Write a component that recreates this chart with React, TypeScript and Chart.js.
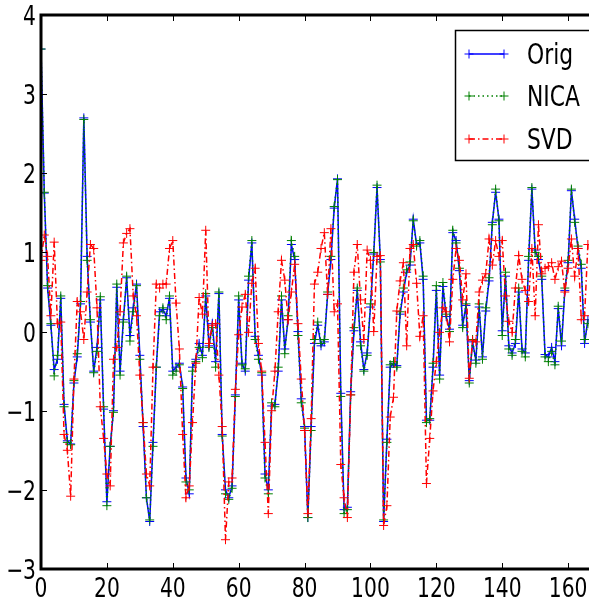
import React, { useEffect, useRef } from "react";
import { Chart, registerables } from "chart.js";

Chart.register(...registerables);

const ORIG = [
  3.57, 1.75, 0.55, 0.08, -0.48, -0.35, 0.42, -0.92, -1.38, -1.42,
  -0.65, -0.32, 0.35, 2.7, 0.95, 0.12, -0.5, -0.2, 0.4, -0.98,
  -2.15, -1.45, -1.0, 0.56, -0.5, 0.15, 0.68, -0.05, 0.3, 0.6,
  -0.3, -1.2, -2.1, -2.4, -1.4, -0.45, 0.25, 0.28, 0.2, 0.42,
  -0.5, -0.45, -0.4, -0.7, -1.85, -2.05, -0.45, -0.35, -0.15, -0.3,
  0.45, -0.18, 0.1, -0.38, 0.48, -1.3, -2.0, -2.1, -1.95, -0.8,
  0.4, -0.4, -0.5, 0.65, 1.12, -0.06, -0.3, -0.55, -1.8, -2.0,
  -0.94, -0.92, -0.5, 0.4, -0.22, 0.15, 1.1, 0.91, 0.0, -0.85,
  -1.2, -2.35, -1.2, -0.15, 0.08, -0.18, -0.13, 0.47, 0.91, 1.56,
  1.93, -0.78, -2.25, -2.22, -0.76, 0.01, 0.52, -0.13, -0.48, -0.27,
  0.31, 0.98, 1.82, 0.91, -2.4, -1.36, -0.45, -0.4, -0.43, 0.22,
  0.5, 0.75, 0.84, 1.42, 1.1, 1.12, 0.66, -1.12, -1.12, -0.45,
  0.52, -0.55, 0.57, 0.19, 0.03, 1.25, 1.15, 0.77, 0.08, 0.33,
  -0.62, -0.13, -0.36, 0.31, -0.32, 0.26, 0.64, 1.38, 1.76, 1.42,
  0.01, 0.7, -0.18, -0.27, -0.15, 0.5, -0.22, -0.27, 0.9, 1.8,
  1.03, 0.91, 0.66, -0.29, -0.32, -0.2, -0.38, 0.29, -0.18, 0.52,
  0.87, 1.78, 1.42, 1.05, 0.8, -0.15, 0.15,
];

const NICA = [
  3.57, 1.76, 0.58, 0.1, -0.56, -0.3, 0.45, -0.95, -1.4, -1.43,
  -0.62, -0.28, 0.38, 2.68, 0.9, 0.15, -0.52, -0.25, 0.44, -0.95,
  -2.2, -1.45, -1.02, 0.6, -0.55, 0.12, 0.7, -0.12, 0.25, 0.58,
  -0.35, -1.15, -2.1, -2.38, -1.45, -0.45, 0.2, 0.3, 0.15, 0.45,
  -0.55, -0.5, -0.42, -0.72, -1.9, -2.0, -0.5, -0.38, -0.2, -0.33,
  0.48, -0.2, 0.05, -0.45, 0.5, -1.32, -2.05, -2.12, -1.98, -0.82,
  0.45, -0.42, -0.47, 0.7, 1.15, -0.1, -0.35, -0.52, -1.85, -2.05,
  -0.9, -0.95, -0.45, 0.45, -0.28, 0.2, 1.15, 0.95, -0.05, -0.9,
  -1.22, -2.35, -1.25, -0.1, 0.12, -0.15, -0.1, 0.5, 0.95, 1.58,
  1.92, -0.82, -2.3, -2.25, -0.8, 0.05, 0.55, -0.18, -0.5, -0.3,
  0.35, 1.0, 1.85, 0.88, -2.38, -1.4, -0.42, -0.38, -0.45, 0.25,
  0.55, 0.78, 0.88, 1.4, 1.08, 1.15, 0.7, -1.15, -1.1, -0.4,
  0.58, -0.6, 0.62, 0.22, 0.0, 1.28, 1.12, 0.8, 0.05, 0.35,
  -0.65, -0.1, -0.4, 0.35, -0.35, 0.3, 0.68, 1.35, 1.8, 1.4,
  -0.05, 0.75, -0.22, -0.3, -0.1, 0.55, -0.25, -0.32, 0.95, 1.82,
  1.0, 0.95, 0.7, -0.32, -0.38, -0.25, -0.42, 0.32, -0.12, 0.55,
  0.9, 1.8, 1.38, 1.08, 0.85, -0.1, 0.1,
];

const SVD = [
  0.9, 1.22, 0.95, 0.2, 1.13, 0.1, 0.12, -1.3, -1.5, -2.08,
  -0.6, 0.38, 0.25, -0.1, 0.5, 1.1, 1.05, 0.3, -0.95, -1.35,
  -1.8, -1.95, -0.35, -0.2, 0.25, 1.12, 1.24, 1.3, 0.45, 0.2,
  -0.55, -1.15, -1.8, -1.95, -0.45, 0.6, 0.55, 0.6, 0.6, 1.05,
  1.15, 0.36, -0.22, -1.3, -2.1, -1.95, -1.15, -0.4, 0.43, 0.22,
  1.28, -0.15, 0.08, 0.1, -0.55, -1.2, -2.63, -1.9, -1.85, -0.73,
  -0.04, 0.31, 0.47, -0.01, 0.61, 0.8, -0.15, -0.5, -1.4, -2.3,
  -1.0, -0.5, 0.25, 0.9, 0.65, 0.15, 0.5, 0.85, 0.1, -0.6,
  -1.25, -2.3, -1.1, 0.6, 0.75, 1.05, 1.25, 0.47, 1.3, 0.25,
  0.35, -1.68, -2.1, -2.35, -0.8, 0.75, 1.1, 0.4, -0.1, 1.03,
  0.9, 0.0, 0.95, 0.96, -2.45, -2.2, -1.08, -0.83, 0.26, 0.64,
  0.87, -0.18, 1.05, 1.1, 0.61, -0.06, 0.2, -1.92, -1.35, -0.75,
  -0.38, -0.01, 0.3, 0.25, -0.13, 0.66, 1.05, 0.9, 0.4, 0.73,
  -0.59, -0.11, -0.13, 0.5, 0.65, 0.73, 1.17, 0.84, 1.15, 0.95,
  1.15, 0.45, 0.13, -0.01, 0.55, 0.96, 0.66, 0.52, 0.38, 1.05,
  0.2, 1.35, 0.73, 0.8, 0.82, 0.87, 0.66, 0.82, 0.89, 0.5,
  0.8, 1.17, 0.7, 1.05, 0.15, 0.2, 1.1,
];

const SERIES_NAMES = ["Orig", "NICA", "SVD"];
const SERIES_COLORS = ["#0000ff", "#008000", "#ff0000"];
const SERIES_DASHES: number[][] = [[], [1.5, 3], [6, 3, 1.5, 3]];
const X_TICKS = [0, 20, 40, 60, 80, 100, 120, 140, 160, 180];
const Y_TICKS = [-3, -2, -1, 0, 1, 2, 3, 4];

const FONT = '"DejaVu Sans", sans-serif';
const SX = 0.75;

function fmt(v: number) {
  return v < 0 ? "\u2212" + Math.abs(v) : String(v);
}

function drawCross(ctx: CanvasRenderingContext2D, x: number, y: number, r: number) {
  ctx.beginPath();
  ctx.moveTo(x - r, y);
  ctx.lineTo(x + r, y);
  ctx.moveTo(x, y - r);
  ctx.lineTo(x, y + r);
  ctx.stroke();
}

const decorPlugin = {
  id: "decor",
  afterDraw(chart: any) {
    const ctx: CanvasRenderingContext2D = chart.ctx;
    const { left, right, top, bottom } = chart.chartArea;
    const xs = chart.scales.x;
    const ys = chart.scales.y;
    ctx.save();
    ctx.strokeStyle = "#000";
    ctx.lineWidth = 1;
    ctx.setLineDash([]);
    // inward ticks
    X_TICKS.forEach((t) => {
      const px = Math.round(xs.getPixelForValue(t)) + 0.5;
      ctx.beginPath();
      ctx.moveTo(px, bottom);
      ctx.lineTo(px, bottom - 6);
      ctx.moveTo(px, top);
      ctx.lineTo(px, top + 6);
      ctx.stroke();
    });
    Y_TICKS.forEach((t) => {
      const py = Math.round(ys.getPixelForValue(t)) + 0.5;
      ctx.beginPath();
      ctx.moveTo(left, py);
      ctx.lineTo(left + 6, py);
      ctx.moveTo(right, py);
      ctx.lineTo(right - 6, py);
      ctx.stroke();
    });
    // frame
    ctx.lineWidth = 3;
    ctx.strokeRect(left, top, right - left, bottom - top);

    // tick labels
    ctx.fillStyle = "#000";
    ctx.font = `27px ${FONT}`;
    X_TICKS.forEach((t) => {
      const px = xs.getPixelForValue(t);
      ctx.save();
      ctx.translate(px, bottom + 28);
      ctx.scale(SX, 1);
      ctx.textAlign = "center";
      ctx.textBaseline = "alphabetic";
      ctx.fillText(fmt(t), 0, 0);
      ctx.restore();
    });
    Y_TICKS.forEach((t) => {
      const py = ys.getPixelForValue(t);
      ctx.save();
      ctx.translate(left - 5, py + 10);
      ctx.scale(SX, 1);
      ctx.textAlign = "right";
      ctx.textBaseline = "alphabetic";
      ctx.fillText(fmt(t), 0, 0);
      ctx.restore();
    });

    // legend
    const bx = 455.5, by = 30.5, bw = 300, bh = 130;
    ctx.fillStyle = "#fff";
    ctx.fillRect(bx, by, bw, bh);
    ctx.lineWidth = 1.5;
    ctx.strokeStyle = "#000";
    ctx.strokeRect(bx, by, bw, bh);
    const rowsY = [54, 96, 139];
    SERIES_NAMES.forEach((name, i) => {
      const y = rowsY[i];
      ctx.strokeStyle = SERIES_COLORS[i];
      ctx.lineWidth = 1.5;
      ctx.setLineDash(SERIES_DASHES[i]);
      ctx.beginPath();
      ctx.moveTo(469, y);
      ctx.lineTo(504, y);
      ctx.stroke();
      ctx.setLineDash([]);
      ctx.lineWidth = 1;
      drawCross(ctx, 469, y, 4.5);
      drawCross(ctx, 504, y, 4.5);
      ctx.save();
      ctx.fillStyle = "#000";
      ctx.font = `28px ${FONT}`;
      ctx.translate(527, y + 10);
      ctx.scale(0.78, 1);
      ctx.textAlign = "left";
      ctx.textBaseline = "alphabetic";
      ctx.fillText(name, 0, 0);
      ctx.restore();
    });
    ctx.restore();
  },
};

export default function App() {
  const ref = useRef<HTMLCanvasElement | null>(null);
  useEffect(() => {
    if (!ref.current) return;
    const seriesData = [ORIG, NICA, SVD];
    const datasets = seriesData.map((arr, i) => ({
      label: SERIES_NAMES[i],
      data: arr.map((v, k) => ({ x: k, y: v })),
      borderColor: SERIES_COLORS[i],
      backgroundColor: SERIES_COLORS[i],
      borderWidth: 1.5,
      borderDash: SERIES_DASHES[i],
      pointStyle: "cross",
      pointRadius: 4.5,
      pointBorderWidth: 1,
      pointBorderColor: SERIES_COLORS[i],
      pointBackgroundColor: SERIES_COLORS[i],
      tension: 0,
      fill: false,
      order: 3 - i,
    }));
    const chart = new Chart(ref.current, {
      type: "line",
      data: { datasets },
      options: {
        animation: false,
        responsive: false,
        events: [],
        layout: { padding: { left: 0, top: 15, right: 16, bottom: 0 } },
        plugins: { legend: { display: false }, tooltip: { enabled: false } },
        scales: {
          x: {
            type: "linear",
            min: 0,
            max: 180,
            ticks: { display: false, stepSize: 20 },
            grid: { display: false },
            border: { display: false },
            afterFit: (s: any) => {
              s.height = 32;
            },
          },
          y: {
            type: "linear",
            min: -3,
            max: 4,
            ticks: { display: false, stepSize: 1 },
            grid: { display: false },
            border: { display: false },
            afterFit: (s: any) => {
              s.width = 41;
            },
          },
        },
      } as any,
      plugins: [decorPlugin],
    });
    return () => chart.destroy();
  }, []);
  return (
    <div
      style={{
        position: "absolute",
        left: 0,
        top: 0,
        width: 589,
        height: 601,
        overflow: "hidden",
        background: "#fff",
      }}
    >
      <canvas ref={ref} width={650} height={601} style={{ display: "block" }} />
    </div>
  );
}
